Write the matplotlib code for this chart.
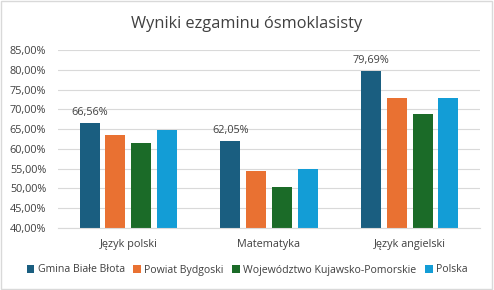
import matplotlib
matplotlib.use("Agg")
import matplotlib.pyplot as plt
from matplotlib.patches import Rectangle
from matplotlib.ticker import FuncFormatter
import numpy as np

categories = ["Język polski", "Matematyka", "Język angielski"]
series_names = ["Gmina Białe Błota", "Powiat Bydgoski", "Województwo Kujawsko-Pomorskie", "Polska"]
gmina = [66.56, 62.05, 79.69]
powiat = [63.4, 54.3, 72.8]
wojewodztwo = [61.6, 50.3, 68.7]
polska = [64.9, 54.8, 72.8]
labels_gmina = ["66,56%", "62,05%", "79,69%"]
colors = ["#1a5e80", "#e97132", "#1b6b28", "#139dd6"]

plt.rcParams['font.family'] = ['Open Sans', 'DejaVu Sans']

fig = plt.figure(figsize=(4.94, 2.90), dpi=100)
ax = fig.add_axes([58/494, 1 - 228/290, 422/494, 178/290])

x = np.arange(len(categories))
w = 0.142
step = 0.183
all_series = [gmina, powiat, wojewodztwo, polska]
for i, (vals, name, c) in enumerate(zip(all_series, series_names, colors)):
    bars = ax.bar(x + (i - 1.5) * step, vals, width=w, color=c, label=name)
    if i == 0:
        for b, lab in zip(bars, labels_gmina):
            ax.text(b.get_x() + b.get_width() / 2, b.get_height() + 1.3, lab,
                    ha='center', va='bottom', fontsize=7.8, color='#404040')

ax.set_ylim(40, 85)
ax.set_xlim(-0.5, 2.5)
ax.set_yticks(np.arange(40, 86, 5))
ax.yaxis.set_major_formatter(FuncFormatter(lambda v, p: f"{v:.2f}%".replace('.', ',')))
ax.set_xticks(x)
ax.set_xticklabels(categories)
ax.tick_params(axis='both', length=0, labelsize=7.8, colors='#404040')
ax.tick_params(axis='x', pad=8)
ax.tick_params(axis='y', pad=8.5)
ax.grid(axis='y', color='#d9d9d9', linewidth=0.8)
ax.set_axisbelow(True)
for s in ['top', 'right', 'left']:
    ax.spines[s].set_visible(False)
ax.spines['bottom'].set_color('#d9d9d9')

fig.text(0.5, 1 - 24/290, "Wyniki ezgaminu ósmoklasisty", ha='center', va='center',
         fontsize=11.8, color='#404040')

leg = fig.legend(loc='center', bbox_to_anchor=(0.5, 1 - 270/290), ncol=4, frameon=False,
                 fontsize=7.6, handlelength=0.75, handleheight=0.75, handletextpad=0.3,
                 columnspacing=0.8, labelcolor='#404040')

fig.patches.append(Rectangle((0.002, 0.003), 0.994, 0.992, transform=fig.transFigure,
                             fill=False, edgecolor='#d9d9d9', linewidth=1))

fig.savefig("out.png", dpi=100)
